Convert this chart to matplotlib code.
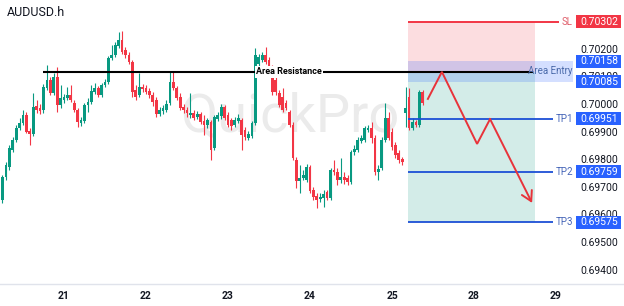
import matplotlib
matplotlib.use('Agg')
import matplotlib.pyplot as plt
import matplotlib.transforms as mtransforms
from matplotlib.patches import Rectangle

plt.rcParams['font.family'] = ['Roboto', 'DejaVu Sans']

# ---------------- data ----------------
symbol = "AUDUSD.h"
# candle times in hours from day 21 00:00 (hourly bars)
hours = list(range(-18, 106))
opens = [0.69656, 0.69739, 0.69775, 0.69837, 0.69873, 0.69917, 0.69935, 0.69964, 0.69906, 0.69895,
         0.69996, 0.69989, 0.69982, 0.70062, 0.70091, 0.70043, 0.70101, 0.70000, 0.70018, 0.70025,
         0.70036, 0.70007, 0.69982, 0.69935, 0.69942, 0.70000, 0.70011, 0.70047, 0.70062, 0.70036,
         0.70072, 0.70083, 0.70170, 0.70181, 0.70214, 0.70236, 0.70199, 0.70181, 0.70156, 0.70054,
         0.70036, 0.70065, 0.70062, 0.70051, 0.70036, 0.70018, 0.69967, 0.69978, 0.69982, 0.70007,
         0.70083, 0.70062, 0.70029, 0.69993, 0.69982, 0.69964, 0.69971, 0.69957, 0.69967, 0.69942,
         0.69928, 0.69938, 0.69844, 0.69949, 0.69960, 0.69993, 0.69964, 0.69946, 0.69928, 0.69942,
         0.69946, 0.69909, 0.69880, 0.69888, 0.69935, 0.70149, 0.70163, 0.70181, 0.70163, 0.70134,
         0.70091, 0.70043, 0.70029, 0.70007, 0.69975, 0.69928, 0.69801, 0.69725, 0.69735, 0.69728,
         0.69775, 0.69692, 0.69670, 0.69659, 0.69663, 0.69685, 0.69663, 0.69764, 0.69757, 0.69728,
         0.69739, 0.69735, 0.69721, 0.69830, 0.69837, 0.69870, 0.69873, 0.69909, 0.69917, 0.69880,
         0.69757, 0.69772, 0.69873, 0.69953, 0.69902, 0.69855, 0.69826, 0.69804, 0.69971, 0.70029,
         0.69917, 0.69938, 0.69928, 0.70047]
highs = [0.69746, 0.69793, 0.69855, 0.69884, 0.69928, 0.69953, 0.69982, 0.69975, 0.69917, 0.70043,
         0.70018, 0.70004, 0.70076, 0.70145, 0.70101, 0.70116, 0.70138, 0.70072, 0.70040, 0.70065,
         0.70072, 0.70018, 0.69989, 0.69957, 0.70007, 0.70025, 0.70072, 0.70080, 0.70069, 0.70080,
         0.70094, 0.70178, 0.70218, 0.70228, 0.70264, 0.70268, 0.70210, 0.70192, 0.70163, 0.70072,
         0.70116, 0.70076, 0.70072, 0.70062, 0.70047, 0.70029, 0.69993, 0.70000, 0.70018, 0.70120,
         0.70120, 0.70069, 0.70043, 0.70004, 0.69993, 0.70043, 0.69982, 0.69978, 0.69975, 0.69964,
         0.69953, 0.69946, 0.69964, 0.69975, 0.70004, 0.70000, 0.69975, 0.69953, 0.69957, 0.69967,
         0.69953, 0.69920, 0.69906, 0.69942, 0.70207, 0.70185, 0.70192, 0.70210, 0.70174, 0.70145,
         0.70101, 0.70054, 0.70062, 0.70018, 0.69982, 0.69938, 0.69812, 0.69783, 0.69764, 0.69786,
         0.69783, 0.69703, 0.69681, 0.69681, 0.69692, 0.69692, 0.69772, 0.69801, 0.69772, 0.69808,
         0.69757, 0.69746, 0.69837, 0.69855, 0.69884, 0.69891, 0.69924, 0.69928, 0.69938, 0.69891,
         0.69783, 0.69884, 0.70007, 0.69975, 0.69917, 0.69866, 0.69837, 0.69812, 0.70065, 0.70062,
         0.69953, 0.69946, 0.70054, 0.70054]
lows = [0.69645, 0.69728, 0.69764, 0.69830, 0.69866, 0.69909, 0.69928, 0.69899, 0.69855, 0.69888,
        0.69971, 0.69967, 0.69971, 0.70054, 0.70036, 0.70036, 0.69975, 0.69989, 0.70007, 0.70018,
        0.70011, 0.69975, 0.69920, 0.69924, 0.69935, 0.69975, 0.70004, 0.70040, 0.70029, 0.70029,
        0.70065, 0.70076, 0.70163, 0.70174, 0.70207, 0.70185, 0.70170, 0.70149, 0.70029, 0.70018,
        0.70029, 0.70047, 0.70040, 0.70025, 0.69996, 0.69957, 0.69960, 0.69967, 0.69975, 0.70000,
        0.70054, 0.70018, 0.69982, 0.69971, 0.69957, 0.69953, 0.69946, 0.69949, 0.69931, 0.69891,
        0.69917, 0.69801, 0.69837, 0.69942, 0.69949, 0.69946, 0.69920, 0.69909, 0.69920, 0.69935,
        0.69837, 0.69873, 0.69873, 0.69880, 0.69928, 0.70141, 0.70156, 0.70149, 0.70127, 0.70036,
        0.70036, 0.69993, 0.69975, 0.69982, 0.69920, 0.69801, 0.69699, 0.69681, 0.69728, 0.69721,
        0.69681, 0.69656, 0.69627, 0.69649, 0.69631, 0.69656, 0.69656, 0.69746, 0.69710, 0.69717,
        0.69714, 0.69710, 0.69714, 0.69819, 0.69830, 0.69862, 0.69866, 0.69902, 0.69862, 0.69746,
        0.69728, 0.69764, 0.69866, 0.69873, 0.69837, 0.69808, 0.69790, 0.69783, 0.69920, 0.69909,
        0.69909, 0.69920, 0.69920, 0.70000]
closes = [0.69739, 0.69783, 0.69844, 0.69873, 0.69917, 0.69935, 0.69964, 0.69902, 0.69895, 0.69993,
          0.69982, 0.69978, 0.70065, 0.70091, 0.70043, 0.70101, 0.70000, 0.70025, 0.70029, 0.70036,
          0.70018, 0.69982, 0.69938, 0.69946, 0.70000, 0.70011, 0.70051, 0.70062, 0.70036, 0.70072,
          0.70083, 0.70170, 0.70181, 0.70218, 0.70236, 0.70192, 0.70181, 0.70156, 0.70047, 0.70029,
          0.70065, 0.70058, 0.70047, 0.70036, 0.70011, 0.69967, 0.69982, 0.69989, 0.70004, 0.70083,
          0.70062, 0.70025, 0.69989, 0.69982, 0.69971, 0.69971, 0.69953, 0.69967, 0.69938, 0.69928,
          0.69946, 0.69837, 0.69957, 0.69964, 0.69993, 0.69953, 0.69928, 0.69924, 0.69946, 0.69953,
          0.69891, 0.69884, 0.69895, 0.69935, 0.70181, 0.70174, 0.70181, 0.70156, 0.70134, 0.70047,
          0.70047, 0.70000, 0.69982, 0.69989, 0.69928, 0.69808, 0.69725, 0.69735, 0.69746, 0.69775,
          0.69688, 0.69667, 0.69656, 0.69667, 0.69678, 0.69663, 0.69764, 0.69757, 0.69728, 0.69739,
          0.69728, 0.69721, 0.69830, 0.69841, 0.69873, 0.69880, 0.69917, 0.69917, 0.69880, 0.69757,
          0.69768, 0.69873, 0.69953, 0.69880, 0.69848, 0.69819, 0.69801, 0.69793, 0.69989, 0.69917,
          0.69938, 0.69928, 0.70047, 0.70007]

day_ticks = [0, 24, 48, 72, 96, 120, 144]
day_labels = ["21", "22", "23", "24", "25", "28", "29"]
price_ticks = [0.69400, 0.69500, 0.69600, 0.69700, 0.69800, 0.69900, 0.70000, 0.70100, 0.70200]

sl_price = 0.70302
entry_top = 0.70158
entry_bottom = 0.70085
resistance = 0.70120
tp_names = ["TP1", "TP2", "TP3"]
tp_prices = [0.69951, 0.69759, 0.69575]

path_hours = [106.5, 110.6, 120.9, 124.7, 137.0]
path_prices = [0.70022, 0.70120, 0.69859, 0.69949, 0.69645]

# ---------------- styling / layout ----------------
UP = '#089981'
DOWN = '#f23645'
TP_BLUE = '#1c4fd6'
BOX_BLUE = '#2962ff'
TXT = '#131722'

fig = plt.figure(figsize=(6.24, 3.06), dpi=100)
ax = fig.add_axes([0, 1 - 284 / 306, 1, 284 / 306])
ax.set_xlim(-18.73, 163.9)
ax.set_ylim(0.693514, 0.703804)

# watermark
ax.text(66.0, 0.69955, "QuickPro", fontsize=39, color='#ebebeb', ha='center', va='center', zorder=0)

# candles
for h, o, hi, lo, c in zip(hours, opens, highs, lows, closes):
    col = UP if c >= o else DOWN
    ax.vlines(h, lo, hi, color=col, lw=0.8, zorder=3)
    body = max(abs(c - o), 0.00003)
    ax.bar(h, body, bottom=min(o, c), width=0.8, color=col, zorder=3, linewidth=0)

# position boxes
box_left, box_right = 100.8, 137.8
band_right = 149.0
ax.add_patch(Rectangle((box_left, resistance), box_right - box_left, sl_price - resistance,
                       facecolor='#fcdde0', edgecolor='none', zorder=1))
ax.add_patch(Rectangle((box_left, tp_prices[2]), box_right - box_left, resistance - tp_prices[2],
                       facecolor='#d3ece8', edgecolor='none', zorder=1))
ax.add_patch(Rectangle((box_left, entry_bottom), band_right - box_left, entry_top - entry_bottom,
                       facecolor=(41 / 255, 98 / 255, 1.0), alpha=0.2, edgecolor='none', zorder=2))

# resistance line
ax.hlines(resistance, -6.1, 137.3, color='black', lw=1.5, zorder=4)
ax.text(65.8, resistance, "Area Resistance", fontsize=6.5, fontweight='bold', color='black',
        ha='center', va='center', zorder=5,
        bbox=dict(facecolor='white', edgecolor='none', pad=1.0))

# SL / TP lines
ax.hlines(sl_price, box_left, 144.9, color=DOWN, lw=1.4, zorder=4)
for p in tp_prices:
    ax.hlines(p, box_left, 143.1, color=TP_BLUE, lw=1.3, zorder=4)

# projected path
ax.plot(path_hours[:-1], path_prices[:-1], color='#e8333a', lw=1.4, zorder=6, solid_joinstyle='miter')
ax.annotate("", xy=(path_hours[-1], path_prices[-1]), xytext=(path_hours[-2], path_prices[-2]),
            arrowprops=dict(arrowstyle='->,head_length=0.7,head_width=0.4', color='#e8333a', lw=1.4,
                            shrinkA=0, shrinkB=0), zorder=6)

# right price scale
tr = mtransforms.blended_transform_factory(ax.transAxes, ax.transData)
xc = 599 / 624
for p in price_ticks:
    ax.text(xc, p, f"{p:.5f}", transform=tr, fontsize=7.5, color=TXT, ha='center', va='center', zorder=7)

box_h = 0.000489
def price_box(p, col):
    ax.add_patch(Rectangle((576 / 624, p - box_h / 2), 45 / 624, box_h, transform=tr,
                           facecolor=col, edgecolor='none', zorder=8, clip_on=False))
    ax.text(xc, p, f"{p:.5f}", transform=tr, fontsize=7.5, color='white', ha='center', va='center', zorder=9)

price_box(sl_price, DOWN)
price_box(entry_top, BOX_BLUE)
price_box(entry_bottom, BOX_BLUE)
for p in tp_prices:
    price_box(p, BOX_BLUE)

ax.text(573 / 624, sl_price, "SL", transform=tr, fontsize=7, color='#e0606c', ha='right', va='center', zorder=7)
for n, p in zip(tp_names, tp_prices):
    ax.text(573 / 624, p, n, transform=tr, fontsize=7, color='#4766b8', ha='right', va='center', zorder=7)
ax.text(573 / 624, (entry_top + entry_bottom) / 2 + 0.00003, "Area Entry", transform=tr, fontsize=7,
        color='#4a6aaa', ha='right', va='center', zorder=7)

# axes styling
for s in ['top', 'left', 'right']:
    ax.spines[s].set_visible(False)
ax.spines['bottom'].set_color('#e0e3eb')
ax.spines['bottom'].set_linewidth(1.0)
ax.set_yticks([])
ax.set_xticks(day_ticks)
ax.set_xticklabels(day_labels, fontsize=7.5, color=TXT, fontweight='semibold')
ax.tick_params(axis='x', length=0, pad=5)

fig.text(7 / 624, 1 - 13 / 306, symbol, fontsize=9, color=TXT, ha='left', va='center')

fig.savefig('out.png', dpi=100, facecolor='white')
